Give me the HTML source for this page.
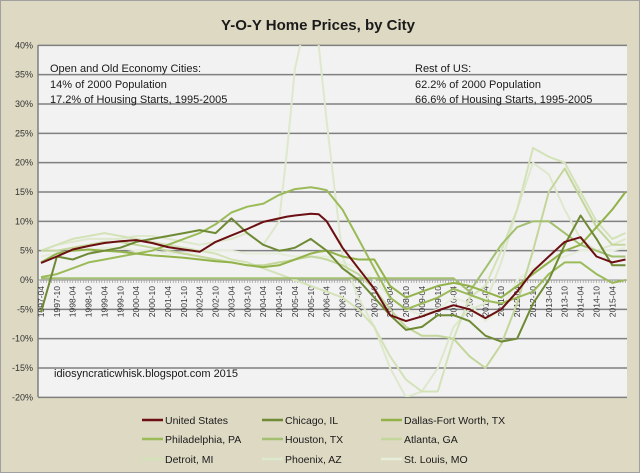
<!DOCTYPE html>
<html><head><meta charset="utf-8"><style>
html,body{margin:0;padding:0;background:#ddd9c3;}
svg{display:block;font-family:"Liberation Sans",sans-serif;}
</style></head><body>
<svg id="chart" width="640" height="473" viewBox="0 0 640 473">
<rect x="0.5" y="0.5" width="639" height="472" fill="#ddd9c3" stroke="#a0a0a0"/>
<text x="318" y="30" text-anchor="middle" font-size="15" font-weight="bold" fill="#1a1a1a">Y-O-Y Home Prices, by City</text>
<rect x="38" y="45" width="589" height="352" fill="#f2f2f2"/>
<g id="grid"></g>
<g id="ylabels"></g>
<g id="ticks"></g>
<g id="xlabels"></g>
<clipPath id="pc"><rect x="38" y="45" width="589" height="352"/></clipPath>
<g id="series" clip-path="url(#pc)"></g>
<g font-size="11" fill="#1a1a1a">
<text x="50" y="72">Open and Old Economy Cities:</text>
<text x="50" y="88">14% of 2000 Population</text>
<text x="50" y="103">17.2% of Housing Starts, 1995-2005</text>
<text x="415" y="72">Rest of US:</text>
<text x="415" y="88">62.2% of 2000 Population</text>
<text x="415" y="103">66.6% of Housing Starts, 1995-2005</text>
<text x="54" y="377">idiosyncraticwhisk.blogspot.com   2015</text>
</g>
<g id="legend" font-size="10.5" fill="#1a1a1a"></g>
</svg>
<script>
const months=[0,6,12,18,24,30,36,42,48,54,60,66,72,78,84,90,93,96,102,105,108,114,120,126,132,138,144,150,156,162,168,174,180,186,192,198,204,210,216,221];
const xTickLabels=["1997-04","1997-10","1998-04","1998-10","1999-04","1999-10","2000-04","2000-10","2001-04","2001-10","2002-04","2002-10","2003-04","2003-10","2004-04","2004-10","2005-04","2005-10","2006-04","2006-10","2007-04","2007-10","2008-04","2008-10","2009-04","2009-10","2010-04","2010-10","2011-04","2011-10","2012-04","2012-10","2013-04","2013-10","2014-04","2014-10","2015-04"];
const yTicks=[40,35,30,25,20,15,10,5,0,-5,-10,-15,-20];
const seriesNames=["United States","Chicago, IL","Dallas-Fort Worth, TX","Philadelphia, PA","Houston, TX","Atlanta, GA","Detroit, MI","Phoenix, AZ","St. Louis, MO"];
const seriesColors=["#6b0f12","#6f8a34","#93b34a","#9bbb59","#a3c070","#c3d69b","#d4e2b8","#dde8cc","#e6eedb"];
const unitedStates=[2.9,4,5.2,5.8,6.3,6.6,6.8,6.3,5.6,5.2,4.8,6.5,7.6,8.7,9.9,10.5,10.8,11,11.3,11.2,10,5.5,2,-1.5,-6,-7,-6.2,-5.2,-4.3,-5,-6.5,-5,-2,1.5,4,6.5,7.3,4,3,3.5];
const chicago=[-5.5,4,3.5,4.5,5,5.5,6.5,7,7.5,8,8.5,8,10.5,8,6,5,5.2,5.5,7,6,5,2,0,-3,-6,-8.5,-8,-6,-6,-7,-9.5,-10.5,-10,-4,0,6,11,7,2.5,2.5];
const dallas=[3,4.5,5,5.2,5,4.8,4.5,4.2,4,3.8,3.5,3.2,3,2.5,2.2,2.5,3,3.5,4.5,4.8,5,4,3.5,3.5,-1,-3,-2,-1,-0.5,-1,-2,-3,-1,1,3,5,6,9,12,15];
const philadelphia=[0.5,1,2,3,3.5,4,4.5,5,6,7,8,9.5,11.5,12.5,13,14.5,15,15.5,15.8,15.6,15.3,12,7,2,-3,-5,-4,-3,-1.5,-2.5,-3.5,-4,-3,-2,1,3,3,1,-0.5,0];
const houston=[0.3,0.3,0.3,0.3,0.3,0.3,0.3,0.3,0.3,0.3,0.3,0.3,0.3,0.3,0.3,0.3,0.3,0.3,0.3,0.3,0.3,0.3,0.3,0.3,0.3,0.3,0.3,0.3,0.3,-2,2,6,9,10,10,8,6,5,4,4];
const atlanta=[5,5,5.5,6,6.5,6.5,6,5.5,5,4.5,4,3.5,3,2.5,2.5,3,3.2,3.5,4,3.8,3.5,2.5,1,-1.5,-5,-8,-9.5,-9.5,-10,-13,-15,-11,-4,5,15,19,14,9,6,6];
const detroit=[5,6,7,7.5,8,7.5,7,6.5,6,5.5,5,4.5,3.5,3,2,1,0.5,0,-1,-1.5,-2,-3,-5,-8,-13,-17,-19,-19,-10,-3,-1,5,12,22.5,21,20,15,10,7,8];
const phoenix=[5,6,6.5,7,7,7,7.5,7.5,7,6.5,6,6.5,7,8,6,10,22,36,48,40,27,4,-3,-8,-15,-20,-19,-15,-8,-5,-4,3,12,20,18,12,7,5,6,7];
const stLouis=[4,4.5,5,5,5.5,5.5,5,5,4.5,4.5,5,5,5,4.5,4.5,4.5,4.2,4,4,4,4,3,2,0,-3,-5,-6,-5,-3,-4,-7,-5,0,2,3,4,5,5,5,5.5];
const seriesData=[unitedStates,chicago,dallas,philadelphia,houston,atlanta,detroit,phoenix,stLouis];

const NS="http://www.w3.org/2000/svg";
const X0=41,XS=2.645,Y0=280,YS=352/60;
function xScale(m){return X0+m*XS;}
function yScale(v){return Y0-v*YS;}
function mk(tag,attrs,parent){const e=document.createElementNS(NS,tag);for(const k in attrs)e.setAttribute(k,attrs[k]);parent.appendChild(e);return e;}
const grid=document.getElementById('grid'),yl=document.getElementById('ylabels');
yTicks.forEach(v=>{
  const y=yScale(v);
  if(v!==0){const l=mk('line',{x1:38,x2:627,y1:y,y2:y,stroke:'#7f7f7f','stroke-width':1.5},grid);
  
  }
  const t=mk('text',{x:33,y:y+3,'text-anchor':'end','font-size':9,fill:'#333'},yl);
  t.textContent=v+'%';
  
  
});
const ax=mk('line',{x1:38,x2:38,y1:45,y2:397,stroke:'#7f7f7f','stroke-width':1.5},grid);


const tk=document.getElementById('ticks');
const zl=mk('line',{x1:38,x2:627,y1:Y0,y2:Y0,stroke:'#8c8c8c','stroke-width':1},tk);


let d='';for(let m=-1;m<=221;m++){const x=xScale(m);d+='M'+x+' '+Y0+'v3';}
const tp=mk('path',{d:d,stroke:'#9a9a9a','stroke-width':0.7},tk);


const xl=document.getElementById('xlabels');
xTickLabels.forEach((lab,i)=>{
  const x=xScale(i*6)+3,y=286;
  const t=mk('text',{x:x,y:y,'text-anchor':'end','font-size':8.5,fill:'#333',transform:'rotate(-90 '+x+' '+y+')'},xl);
  t.textContent=lab;
  
  
});
const sg=document.getElementById('series');
for(let s=seriesData.length-1;s>=0;s--){
  const pts=seriesData[s].map((v,i)=>xScale(months[i]).toFixed(1)+','+yScale(v).toFixed(1)).join(' ');
  const p=mk('polyline',{points:pts,fill:'none',stroke:seriesColors[s],'stroke-width':2,'stroke-linejoin':'round'},sg);
  
  
}
const lg=document.getElementById('legend');
const lx=[142,262,381],ly=[420,439,459];
seriesNames.forEach((n,i)=>{
  const cx=lx[i%3],cy=ly[Math.floor(i/3)];
  const l=mk('line',{x1:cx,x2:cx+21,y1:cy,y2:cy,stroke:seriesColors[i],'stroke-width':2.5},lg);
  
  
  const t=mk('text',{x:cx+23,y:cy+4},lg);
  t.textContent=n;
  
  
});
</script>
</body></html>
